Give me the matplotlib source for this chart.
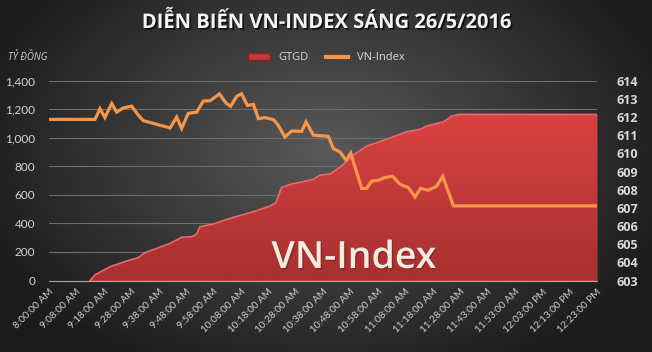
import matplotlib.pyplot as plt
import numpy as np
from matplotlib.patches import Patch
from matplotlib.lines import Line2D
from matplotlib.colors import LinearSegmentedColormap
import matplotlib.patheffects as pe

plt.rcParams['font.family'] = ['Open Sans', 'DejaVu Sans']

# categories: one per minute on the Excel category axis, labelled every 10
n_cat = 201
tick_labels = ["8:00:00 AM", "9:08:00 AM", "9:18:00 AM", "9:28:00 AM", "9:38:00 AM",
               "9:48:00 AM", "9:58:00 AM", "10:08:00 AM", "10:18:00 AM", "10:28:00 AM",
               "10:38:00 AM", "10:48:00 AM", "10:58:00 AM", "11:08:00 AM", "11:18:00 AM",
               "11:28:00 AM", "11:43:00 AM", "11:53:00 AM", "12:03:00 PM", "12:13:00 PM",
               "12:23:00 PM"]

# GTGD (ty dong), read at category positions
gtgd_x = [15, 16.8, 22.3, 28.4, 32.6, 35.0, 39.3, 44.2, 48.4, 52.1, 53.9, 55.1, 60.0,
          67.3, 74.6, 80.7, 82.8, 84.9, 88.6, 96.5, 98.9, 102.6, 106.2, 111.1, 115.9,
          123.2, 130.5, 135.4, 137.8, 143.9, 147.0, 149.4, 200]
gtgd_y = [0, 40, 97, 137, 160, 195, 225, 260, 303, 307, 326, 377, 396,
          443, 482, 522, 545, 653, 676, 709, 739, 746, 793, 879, 942,
          989, 1042, 1059, 1082, 1112, 1152, 1164, 1164]

# VN-Index points
vni_x = [0, 16.8, 18.6, 20.4, 22.9, 24.7, 27.1, 30.2, 32.6, 34.4, 39.3, 44.2, 46.6,
         48.4, 50.8, 53.9, 56.3, 58.8, 62.2, 64.6, 66.3, 68.5, 70.3, 72.4, 74.6, 76.4,
         78.8, 81.9, 83.7, 86.1, 88.6, 92.2, 93.8, 96.5, 101.9, 103.8, 106.2, 108.4,
         110.1, 114.1, 115.9, 117.8, 120.2, 122.6, 125.4, 128.1, 131.1, 133.6, 135.6,
         138.4, 141.5, 143.7, 147.6, 200]
vni_y = [611.87, 611.87, 612.46, 611.97, 612.74, 612.27, 612.5, 612.6, 612.1, 611.8,
         611.6, 611.4, 612.0, 611.37, 612.2, 612.27, 612.88, 612.9, 613.27, 612.77,
         612.59, 613.14, 613.28, 612.64, 612.7, 611.91, 611.97, 611.86, 611.54, 610.9,
         611.23, 611.21, 611.73, 611.0, 610.94, 610.26, 610.08, 609.62, 610.02, 608.07,
         608.07, 608.48, 608.52, 608.67, 608.74, 608.3, 608.12, 607.6, 608.07, 607.97,
         608.19, 608.74, 607.11, 607.11]

W, H = 652, 352
fig = plt.figure(figsize=(W / 100, H / 100), dpi=100)

# radial dark background
bg = fig.add_axes([0, 0, 1, 1])
yy, xx = np.mgrid[0:H, 0:W]
r = np.sqrt(((xx - 326) / 370.0) ** 2 + ((yy - 150) / 250.0) ** 2)
bg.imshow(np.clip(r, 0, 1), cmap=LinearSegmentedColormap.from_list('bg', ['#595959', '#1b1b1b']),
          aspect='auto', extent=[0, 1, 0, 1])
bg.axis('off')

ax = fig.add_axes([49 / W, 71.5 / H, 548 / W, 199.8 / H])
ax.patch.set_alpha(0)
ax.set_xlim(0, n_cat - 1)
ax.set_ylim(0, 1400)

poly = ax.fill_between(gtgd_x, gtgd_y, 0, color='#c43a3a', lw=0, zorder=2)
grad = np.linspace(1, 0, 100).reshape(-1, 1)
img = ax.imshow(grad, cmap=LinearSegmentedColormap.from_list('red', ['#a83030', '#dc4242']),
                extent=[0, n_cat - 1, 0, 1200], aspect='auto', zorder=2.1)
img.set_clip_path(poly.get_paths()[0], transform=ax.transData)
ax.plot(gtgd_x, gtgd_y, color='#e66a6a', lw=1.2, zorder=2.2)

ax.set_yticks(range(0, 1401, 200))
ax.set_yticklabels([f"{v:,}" for v in range(0, 1401, 200)])
ax.grid(axis='y', color='#6e6e6e', lw=0.8, zorder=1)
ax.set_axisbelow(True)
for s in ['top', 'left', 'right']:
    ax.spines[s].set_visible(False)
ax.spines['bottom'].set_color('#a8a8a8')
ax.tick_params(axis='y', length=0, pad=10, labelsize=8.5, labelcolor='#d4d4d4')
ax.set_xticks(range(0, n_cat, 10))
ax.set_xticklabels(tick_labels, rotation=45, ha='right', va='top', rotation_mode='anchor')
ax.tick_params(axis='x', length=0, pad=5, labelsize=7.2, labelcolor='#d0d0d0')
for t in ax.get_yticklabels() + ax.get_xticklabels():
    t.set_family(['Lato', 'DejaVu Sans'])

ax2 = ax.twinx()
ax2.set_ylim(603, 614)
ax2.plot(vni_x, vni_y, color='#f79646', lw=2.3, solid_joinstyle='miter', zorder=3)
ax2.set_yticks(range(603, 615))
for s in ax2.spines.values():
    s.set_visible(False)
ax2.tick_params(axis='y', length=0, pad=14, labelsize=9, labelcolor='#d9d9d9')
for t in ax2.get_yticklabels():
    t.set_fontweight('bold')

fig.text(354 / W, 1 - 268 / H, 'VN-Index', fontsize=27, fontweight='semibold',
         color='#efece2', ha='center', va='baseline', zorder=5,
         path_effects=[pe.withSimplePatchShadow(offset=(1, -1), shadow_rgbFace='#7a1e1e', alpha=0.6)])

fig.text(0.5, 1 - 23 / H, 'DIỄN BIẾN VN-INDEX SÁNG 26/5/2016', fontsize=14.5,
         fontweight='bold', color='#f4f4f4', ha='center', va='center',
         path_effects=[pe.withSimplePatchShadow(offset=(1.2, -1.2), shadow_rgbFace='black', alpha=0.7)])
fig.text(8 / W, 1 - 58 / H, 'TỶ ĐỒNG', fontsize=7, style='italic',
         color='#d4d4d4', ha='left', va='center')

handles = [Patch(facecolor='#c43a3a', edgecolor='#8a2020'),
           Line2D([0], [0], color='#f79646', lw=3)]
fig.legend(handles, ['GTGD', 'VN-Index'], loc='center', bbox_to_anchor=(0.5, 1 - 58 / H),
           ncol=2, frameon=False, fontsize=8, labelcolor='#d9d9d9',
           handlelength=2.0, handleheight=0.6, columnspacing=1.5)

fig.savefig('out.png', dpi=100)
